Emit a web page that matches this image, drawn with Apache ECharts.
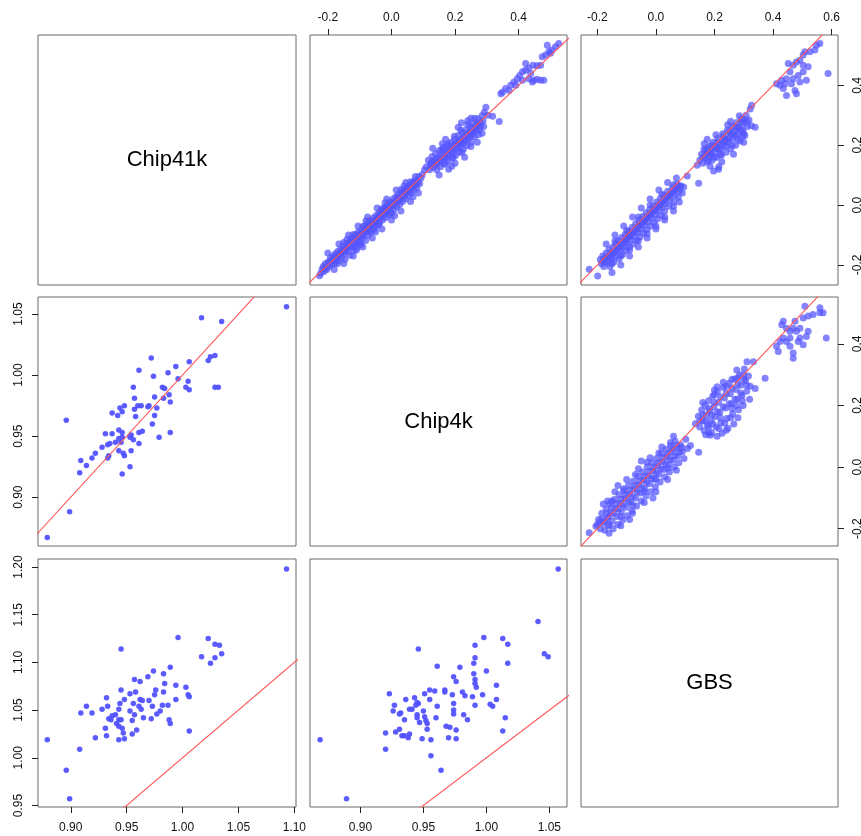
<!DOCTYPE html>
<html><head><meta charset="utf-8">
<script src="https://cdn.jsdelivr.net/npm/echarts@6/dist/echarts.min.js"></script>
<style>html,body{margin:0;padding:0;background:#fff}#c{width:861px;height:836px}</style>
</head><body><div id="c"></div>
<script>
// ---------------- DATA ----------------
const varNames = ['Chip41k', 'Chip4k', 'GBS'];

// axis ranges (lower panels)
const rangeChip41k = [0.8707, 1.1015];
const rangeChip4k = [0.860, 1.064];
const rangeGBS = [0.9484, 1.2084];
// axis ranges (upper panels)
const rangeUp1 = [-0.267, 0.568];
const rangeUp2 = [-0.256, 0.552];
const rangeUp3 = [-0.256, 0.622];

// tick labels
const ticksChip41k = [0.90, 0.95, 1.00, 1.05, 1.10];
const ticksChip4kX = [0.90, 0.95, 1.00, 1.05];
const ticksChip4kY = [0.90, 0.95, 1.00, 1.05];
const ticksGBS = [0.95, 1.00, 1.05, 1.10, 1.15, 1.20];
const ticksUp2Top = [-0.2, 0.0, 0.2, 0.4];
const ticksUp3Top = [-0.2, 0.0, 0.2, 0.4, 0.6];
const ticksUp1Right = [-0.2, 0.0, 0.2, 0.4];
const ticksUp2Right = [-0.2, 0.0, 0.2, 0.4];

// lower panel points
const pts41k_4k = [[1.093,1.056],[1.017,1.047],[1.035,1.044],[0.972,1.014],[0.961,1.004],[0.994,1.007],[1.006,1.011],[1.023,1.012],[1.025,1.015],[1.029,1.016],[0.987,1.002],[0.974,0.999],[0.996,0.997],[1.005,0.995],[1.003,0.990],[1.006,0.988],[1.029,0.990],[1.032,0.990],[0.956,0.990],[0.982,0.990],[0.984,0.989],[0.988,0.984],[0.983,0.981],[0.989,0.978],[0.975,0.982],[0.957,0.981],[0.977,0.973],[0.969,0.974],[0.970,0.975],[0.963,0.975],[0.960,0.975],[0.957,0.972],[0.948,0.975],[0.944,0.973],[0.946,0.970],[0.942,0.967],[0.937,0.969],[0.958,0.966],[0.975,0.967],[0.973,0.960],[0.896,0.963],[0.989,0.953],[0.979,0.949],[0.961,0.953],[0.964,0.954],[0.954,0.951],[0.953,0.949],[0.943,0.955],[0.946,0.953],[0.937,0.952],[0.931,0.952],[0.943,0.948],[0.946,0.949],[0.940,0.945],[0.945,0.945],[0.935,0.944],[0.933,0.943],[0.928,0.941],[0.956,0.947],[0.961,0.944],[0.922,0.936],[0.919,0.932],[0.909,0.930],[0.914,0.926],[0.908,0.920],[0.933,0.932],[0.934,0.934],[0.943,0.938],[0.948,0.934],[0.947,0.936],[0.954,0.938],[0.953,0.925],[0.946,0.919],[0.899,0.888],[0.879,0.867]];
const pts41k_gbs = [[1.093,1.198],[0.996,1.126],[1.023,1.125],[1.029,1.119],[1.033,1.118],[1.035,1.109],[1.029,1.105],[1.025,1.099],[1.017,1.106],[0.945,1.114],[0.989,1.095],[0.974,1.091],[0.983,1.088],[0.969,1.085],[0.957,1.082],[0.962,1.080],[0.984,1.078],[0.994,1.076],[1.003,1.074],[0.945,1.071],[0.958,1.069],[0.953,1.067],[0.976,1.071],[0.983,1.069],[0.975,1.066],[1.005,1.066],[1.006,1.064],[0.932,1.063],[0.948,1.061],[0.962,1.061],[0.964,1.060],[0.970,1.060],[0.994,1.061],[0.944,1.057],[0.956,1.057],[0.961,1.054],[0.973,1.054],[0.982,1.055],[0.987,1.055],[0.914,1.054],[0.933,1.054],[0.928,1.051],[0.919,1.047],[0.909,1.047],[0.943,1.051],[0.953,1.049],[0.963,1.051],[0.980,1.049],[0.977,1.046],[0.940,1.045],[0.937,1.044],[0.934,1.041],[0.936,1.040],[0.943,1.040],[0.945,1.040],[0.955,1.039],[0.957,1.045],[0.965,1.042],[0.972,1.041],[0.988,1.040],[0.989,1.036],[0.941,1.036],[0.943,1.033],[0.931,1.031],[0.946,1.031],[0.959,1.029],[1.006,1.028],[0.947,1.026],[0.932,1.023],[0.922,1.021],[0.943,1.019],[0.948,1.020],[0.955,1.025],[0.879,1.019],[0.908,1.009],[0.896,0.987],[0.899,0.957]];
const pts4k_gbs = [[1.057,1.198],[1.041,1.143],[0.998,1.126],[1.013,1.125],[1.017,1.119],[0.991,1.118],[0.946,1.114],[1.046,1.109],[1.049,1.106],[0.991,1.105],[1.017,1.099],[0.990,1.099],[0.961,1.096],[0.979,1.095],[1.000,1.091],[0.990,1.088],[0.974,1.085],[0.976,1.080],[0.991,1.082],[0.991,1.078],[0.992,1.074],[1.008,1.076],[0.955,1.071],[0.959,1.070],[0.967,1.071],[0.967,1.069],[0.981,1.069],[0.923,1.067],[0.951,1.067],[0.943,1.063],[0.936,1.061],[0.955,1.061],[0.973,1.066],[0.983,1.065],[0.997,1.066],[0.989,1.064],[1.008,1.061],[0.945,1.058],[0.946,1.057],[0.927,1.055],[0.944,1.055],[0.961,1.054],[0.974,1.057],[0.991,1.055],[1.003,1.056],[1.005,1.054],[0.939,1.051],[0.941,1.051],[0.926,1.049],[0.932,1.047],[0.950,1.049],[0.974,1.050],[0.974,1.046],[0.945,1.045],[0.931,1.046],[0.945,1.042],[0.951,1.043],[0.960,1.042],[0.982,1.045],[0.985,1.040],[1.015,1.042],[0.935,1.040],[0.947,1.037],[0.952,1.039],[0.953,1.036],[0.968,1.033],[0.971,1.032],[0.976,1.029],[0.953,1.030],[1.013,1.028],[0.920,1.026],[0.928,1.027],[0.931,1.030],[0.933,1.023],[0.938,1.021],[0.935,1.023],[0.939,1.025],[0.970,1.021],[0.976,1.020],[0.949,1.020],[0.956,1.019],[0.868,1.019],[0.920,1.009],[0.956,1.002],[0.964,0.987],[0.889,0.957]];

// upper panel points (row 1 / col 2)
const ptsUp12 = [[-0.226,-0.236],[-0.222,-0.228],[-0.214,-0.205],[-0.212,-0.222],[-0.208,-0.196],[-0.203,-0.215],[-0.199,-0.190],[-0.196,-0.205],[-0.192,-0.178],[-0.188,-0.199],[-0.184,-0.170],[-0.181,-0.186],[-0.178,-0.195],[-0.176,-0.163],[-0.172,-0.178],[-0.169,-0.155],[-0.166,-0.187],[-0.163,-0.166],[-0.160,-0.148],[-0.157,-0.175],[-0.154,-0.158],[-0.151,-0.137],[-0.148,-0.162],[-0.146,-0.181],[-0.143,-0.146],[-0.140,-0.128],[-0.137,-0.155],[-0.134,-0.138],[-0.131,-0.168],[-0.129,-0.117],[-0.127,-0.140],[-0.124,-0.108],[-0.121,-0.126],[-0.118,-0.152],[-0.115,-0.132],[-0.112,-0.098],[-0.110,-0.116],[-0.107,-0.140],[-0.104,-0.089],[-0.101,-0.122],[-0.098,-0.103],[-0.095,-0.132],[-0.093,-0.084],[-0.090,-0.110],[-0.087,-0.095],[-0.084,-0.070],[-0.081,-0.118],[-0.078,-0.088],[-0.076,-0.062],[-0.073,-0.101],[-0.070,-0.078],[-0.067,-0.052],[-0.064,-0.090],[-0.061,-0.066],[-0.058,-0.044],[-0.055,-0.082],[-0.052,-0.058],[-0.049,-0.036],[-0.046,-0.070],[-0.043,-0.048],[-0.040,-0.027],[-0.037,-0.060],[-0.034,-0.040],[-0.031,-0.018],[-0.028,-0.050],[-0.025,-0.030],[-0.022,-0.008],[-0.019,-0.042],[-0.016,-0.020],[-0.013,-0.001],[-0.010,-0.034],[-0.007,-0.012],[-0.004,0.010],[-0.001,-0.024],[0.002,-0.002],[0.005,0.020],[0.008,-0.016],[0.011,0.006],[0.014,0.028],[0.017,-0.006],[0.020,0.014],[0.023,0.036],[0.026,0.002],[0.029,0.022],[0.032,0.044],[0.035,0.012],[0.038,0.030],[0.041,0.052],[0.044,0.020],[0.047,0.040],[0.050,0.060],[0.053,0.030],[0.056,0.048],[0.059,0.068],[0.062,0.040],[0.065,0.058],[0.068,0.076],[0.071,0.050],[0.074,0.066],[0.077,0.084],[0.080,0.058],[0.083,0.078],[0.086,0.095],[0.089,0.072],[0.093,0.090],[0.097,0.102],[0.104,0.118],[0.126,0.134],
[0.110,0.128],[0.116,0.150],[0.120,0.118],[0.125,0.140],[0.128,0.162],[0.132,0.126],[0.136,0.150],[0.139,0.172],[0.142,0.118],[0.145,0.138],[0.148,0.160],[0.151,0.182],[0.154,0.128],[0.157,0.148],[0.160,0.170],[0.163,0.192],[0.166,0.136],[0.169,0.158],[0.172,0.180],[0.175,0.200],[0.178,0.146],[0.181,0.168],[0.184,0.190],[0.187,0.210],[0.190,0.156],[0.193,0.178],[0.196,0.200],[0.199,0.220],[0.202,0.166],[0.205,0.188],[0.208,0.210],[0.211,0.232],[0.214,0.176],[0.217,0.198],[0.220,0.220],[0.223,0.242],[0.226,0.186],[0.229,0.208],[0.232,0.230],[0.235,0.252],[0.238,0.198],[0.241,0.220],[0.244,0.242],[0.247,0.262],[0.250,0.210],[0.253,0.232],[0.256,0.254],[0.259,0.274],[0.262,0.228],[0.265,0.248],[0.268,0.270],[0.272,0.288],[0.276,0.252],[0.280,0.276],[0.285,0.298],[0.292,0.310],[0.297,0.327],[0.303,0.300],[0.318,0.297],[0.339,0.279],
[0.349,0.377],[0.359,0.389],[0.375,0.400],[0.385,0.411],[0.396,0.422],[0.403,0.433],[0.412,0.445],[0.422,0.450],[0.432,0.458],[0.445,0.467],[0.422,0.473],[0.438,0.439],[0.458,0.465],[0.469,0.467],[0.432,0.422],[0.448,0.417],[0.458,0.420],[0.469,0.417],[0.479,0.417],[0.443,0.411],[0.412,0.417],[0.391,0.400],[0.485,0.501],[0.495,0.512],[0.505,0.518],[0.516,0.529],[0.526,0.540],[0.490,0.534],[0.500,0.507],[0.474,0.495],[0.370,0.383],[0.344,0.372]];
const ptsUp12core = [[-0.218,-0.214],[-0.206,-0.210],[-0.197,-0.196],[-0.189,-0.185],[-0.181,-0.176],[-0.174,-0.184],[-0.167,-0.170],[-0.159,-0.162],[-0.152,-0.150],[-0.145,-0.152],[-0.139,-0.141],[-0.133,-0.126],[-0.126,-0.123],[-0.120,-0.139],[-0.114,-0.113],[-0.108,-0.105],[-0.102,-0.110],[-0.096,-0.094],[-0.089,-0.100],[-0.083,-0.082],[-0.077,-0.076],[-0.071,-0.090],[-0.065,-0.064],[-0.059,-0.056],[-0.053,-0.068],[-0.047,-0.050],[-0.041,-0.040],[-0.035,-0.030],[-0.029,-0.038],[-0.023,-0.020],[-0.017,-0.010],[-0.011,-0.022],[-0.005,-0.004],[0.001,0.008],[0.007,0.000],[0.013,0.012],[0.019,0.026],[0.025,0.018],[0.031,0.030],[0.037,0.042],[0.043,0.036],[0.049,0.048],[0.055,0.060],[0.061,0.052],[0.067,0.064],[0.073,0.075],[0.079,0.070],[-0.150,-0.125],[-0.120,-0.098],[-0.090,-0.072],[-0.060,-0.078],[-0.030,-0.012],[0.000,-0.030],[0.030,0.052],[0.060,0.078],[-0.170,-0.196],[-0.100,-0.128],[-0.040,-0.064],
[0.122,0.134],[0.130,0.146],[0.138,0.136],[0.146,0.156],[0.153,0.146],[0.161,0.160],[0.168,0.172],[0.174,0.162],[0.181,0.182],[0.188,0.176],[0.195,0.190],[0.201,0.202],[0.207,0.196],[0.213,0.212],[0.219,0.206],[0.225,0.222],[0.231,0.216],[0.237,0.236],[0.243,0.228],[0.249,0.246],[0.255,0.240],[0.261,0.258],[0.267,0.252],[0.273,0.268],[0.280,0.262],[0.288,0.282],[0.158,0.184],[0.178,0.204],[0.198,0.230],[0.218,0.250],[0.240,0.270],[0.262,0.290],[0.170,0.140],[0.195,0.160],[0.222,0.176],[0.250,0.196],[0.275,0.236],[0.290,0.262]];
const ptsUp12edge = [[-0.200,-0.160],[-0.180,-0.215],[-0.165,-0.130],[-0.150,-0.195],[-0.135,-0.100],[-0.120,-0.170],[-0.105,-0.070],[-0.090,-0.140],[-0.075,-0.040],[-0.060,-0.110],[-0.045,-0.010],[-0.030,-0.080],[-0.015,0.020],[0.000,-0.050],[0.015,0.050],[0.030,-0.020],[0.045,0.075],[0.060,0.012],[0.075,0.095],[0.085,0.040],[-0.140,-0.115],[-0.110,-0.150],[-0.080,-0.052],[-0.050,-0.090],[-0.020,0.008],[0.010,-0.036],[0.040,0.064],[0.068,0.028],
[0.130,0.190],[0.150,0.100],[0.170,0.220],[0.190,0.130],[0.210,0.260],[0.230,0.160],[0.250,0.290],[0.270,0.210],[0.160,0.205],[0.200,0.140],[0.240,0.282],[0.285,0.240],[0.180,0.120],[0.220,0.275]];

// upper panel points (row 1 / col 3)
const ptsUp13 = [[-0.228,-0.214],[-0.199,-0.237],[-0.190,-0.182],[-0.186,-0.196],[-0.182,-0.170],[-0.178,-0.205],[-0.174,-0.178],[-0.170,-0.160],[-0.167,-0.192],[-0.163,-0.170],[-0.160,-0.148],[-0.157,-0.205],[-0.153,-0.160],[-0.150,-0.180],[-0.147,-0.140],[-0.144,-0.190],[-0.141,-0.158],[-0.138,-0.128],[-0.135,-0.170],[-0.132,-0.145],[-0.129,-0.118],[-0.126,-0.180],[-0.123,-0.152],[-0.120,-0.130],[-0.117,-0.108],[-0.114,-0.165],[-0.111,-0.140],[-0.108,-0.118],[-0.105,-0.098],[-0.102,-0.152],[-0.099,-0.128],[-0.096,-0.106],[-0.093,-0.086],[-0.090,-0.140],[-0.087,-0.116],[-0.084,-0.094],[-0.081,-0.074],[-0.078,-0.130],[-0.075,-0.104],[-0.072,-0.082],[-0.069,-0.062],[-0.066,-0.118],[-0.063,-0.092],[-0.060,-0.070],[-0.057,-0.050],[-0.054,-0.106],[-0.051,-0.080],[-0.048,-0.058],[-0.045,-0.038],[-0.042,-0.094],[-0.039,-0.068],[-0.036,-0.046],[-0.033,-0.026],[-0.030,-0.082],[-0.027,-0.056],[-0.024,-0.034],[-0.021,-0.014],[-0.018,-0.070],[-0.015,-0.044],[-0.012,-0.022],[-0.009,-0.002],[-0.006,-0.058],[-0.003,-0.032],[0.000,-0.010],[0.003,0.010],[0.006,-0.046],[0.009,-0.020],[0.012,0.002],[0.015,0.022],[0.018,-0.034],[0.021,-0.008],[0.024,0.014],[0.027,0.034],[0.030,-0.020],[0.033,0.004],[0.036,0.026],[0.040,0.046],[0.044,-0.004],[0.048,0.018],[0.052,0.040],[0.056,0.058],[0.060,0.010],[0.064,0.032],[0.068,0.052],[0.072,0.070],[0.076,0.026],[0.080,0.046],[0.085,0.064],[0.090,0.040],[0.095,0.060],[0.107,0.097],[0.146,0.073],[0.141,0.133],
[0.150,0.150],[0.156,0.170],[0.160,0.140],[0.164,0.186],[0.168,0.158],[0.172,0.176],[0.176,0.144],[0.180,0.196],[0.184,0.166],[0.188,0.186],[0.192,0.150],[0.196,0.210],[0.200,0.176],[0.204,0.196],[0.208,0.160],[0.212,0.222],[0.216,0.186],[0.220,0.206],[0.224,0.166],[0.228,0.238],[0.232,0.198],[0.236,0.220],[0.240,0.176],[0.244,0.250],[0.248,0.210],[0.252,0.232],[0.256,0.188],[0.260,0.262],[0.264,0.222],[0.268,0.246],[0.272,0.200],[0.276,0.276],[0.280,0.236],[0.284,0.258],[0.288,0.214],[0.292,0.288],[0.296,0.250],[0.300,0.272],[0.304,0.232],[0.308,0.300],[0.312,0.262],[0.318,0.284],[0.322,0.321],[0.327,0.333],[0.326,0.265],[0.339,0.260],[0.197,0.114],[0.214,0.120],
[0.412,0.405],[0.429,0.417],[0.446,0.422],[0.458,0.445],[0.452,0.473],[0.469,0.467],[0.480,0.478],[0.492,0.484],[0.503,0.467],[0.520,0.462],[0.514,0.417],[0.492,0.411],[0.475,0.383],[0.446,0.366],[0.480,0.372],[0.463,0.405],[0.441,0.405],[0.424,0.400],[0.548,0.534],[0.543,0.518],[0.526,0.512],[0.509,0.512],[0.503,0.501],[0.560,0.540],[0.588,0.439],[0.486,0.433],[0.469,0.422],[0.503,0.445],[0.435,0.389]];
const ptsUp13core = [[-0.180,-0.188],[-0.172,-0.190],[-0.165,-0.178],[-0.158,-0.172],[-0.151,-0.168],[-0.144,-0.160],[-0.136,-0.150],[-0.129,-0.144],[-0.121,-0.140],[-0.114,-0.128],[-0.106,-0.122],[-0.099,-0.112],[-0.091,-0.106],[-0.084,-0.098],[-0.076,-0.090],[-0.069,-0.084],[-0.061,-0.076],[-0.054,-0.066],[-0.046,-0.060],[-0.039,-0.052],[-0.031,-0.044],[-0.024,-0.036],[-0.016,-0.030],[-0.009,-0.020],[-0.001,-0.016],[0.006,-0.004],[0.014,0.000],[0.021,0.010],[0.029,0.016],[0.036,0.024],[0.044,0.030],[0.051,0.038],[0.059,0.046],[0.066,0.052],[0.074,0.058],[0.082,0.064],[-0.150,-0.196],[-0.120,-0.170],[-0.090,-0.150],[-0.060,-0.120],[-0.030,-0.096],[0.000,-0.070],[0.030,-0.040],[0.060,-0.004],[-0.140,-0.120],[-0.100,-0.086],[-0.060,-0.040],[-0.020,0.000],[0.020,0.036],[0.060,0.068],
[0.160,0.160],[0.170,0.168],[0.180,0.174],[0.190,0.170],[0.200,0.190],[0.210,0.192],[0.220,0.186],[0.230,0.210],[0.240,0.214],[0.250,0.222],[0.260,0.240],[0.270,0.232],[0.280,0.256],[0.290,0.250],[0.300,0.286],[0.310,0.280],[0.180,0.150],[0.200,0.160],[0.220,0.170],[0.240,0.196],[0.260,0.200],[0.280,0.220],[0.300,0.240],[0.170,0.186],[0.190,0.200],[0.210,0.210],[0.230,0.230],[0.250,0.246],[0.270,0.262],[0.290,0.276]];
const ptsUp13edge = [[-0.170,-0.130],[-0.150,-0.225],[-0.140,-0.100],[-0.120,-0.200],[-0.110,-0.070],[-0.090,-0.170],[-0.080,-0.040],[-0.060,-0.140],[-0.050,-0.010],[-0.030,-0.110],[-0.020,0.020],[0.000,-0.080],[0.010,0.050],[0.030,-0.050],[0.040,0.075],[0.060,-0.020],[0.070,0.090],[0.080,0.010],
[0.165,0.205],[0.185,0.130],[0.205,0.235],[0.225,0.145],[0.245,0.268],[0.265,0.170],[0.285,0.298],[0.300,0.210],[0.175,0.220],[0.215,0.128],[0.255,0.280],[0.295,0.230]];

// upper panel points (row 2 / col 3)
const ptsUp23 = [[-0.228,-0.213],[-0.205,-0.192],[-0.196,-0.170],[-0.190,-0.200],[-0.185,-0.150],[-0.180,-0.182],[-0.175,-0.205],[-0.170,-0.135],[-0.166,-0.165],[-0.162,-0.190],[-0.158,-0.118],[-0.154,-0.148],[-0.150,-0.176],[-0.146,-0.200],[-0.142,-0.105],[-0.138,-0.134],[-0.134,-0.160],[-0.130,-0.186],[-0.126,-0.090],[-0.122,-0.118],[-0.118,-0.146],[-0.114,-0.172],[-0.110,-0.076],[-0.106,-0.102],[-0.102,-0.130],[-0.098,-0.158],[-0.094,-0.060],[-0.090,-0.088],[-0.086,-0.114],[-0.082,-0.142],[-0.078,-0.046],[-0.074,-0.072],[-0.070,-0.100],[-0.066,-0.126],[-0.062,-0.030],[-0.058,-0.058],[-0.054,-0.084],[-0.050,-0.110],[-0.046,-0.016],[-0.042,-0.042],[-0.038,-0.070],[-0.034,-0.094],[-0.030,0.000],[-0.026,-0.028],[-0.022,-0.054],[-0.018,-0.080],[-0.014,0.014],[-0.010,-0.012],[-0.006,-0.038],[-0.002,-0.064],[0.002,0.028],[0.006,0.004],[0.010,-0.022],[0.014,-0.048],[0.018,0.044],[0.022,0.018],[0.026,-0.008],[0.030,-0.032],[0.034,0.058],[0.038,0.034],[0.042,0.008],[0.046,-0.016],[0.050,0.070],[0.054,0.048],[0.058,0.022],[0.062,0.000],[0.066,0.084],[0.070,0.060],[0.074,0.036],[0.078,0.014],[0.084,0.072],[0.090,0.050],[0.096,0.028],[0.102,0.090],[0.108,0.060],[0.118,0.070],[0.146,0.048],[-0.165,-0.110],
[0.135,0.141],[0.145,0.165],[0.150,0.130],[0.156,0.185],[0.160,0.150],[0.165,0.118],[0.168,0.200],[0.172,0.168],[0.176,0.136],[0.180,0.215],[0.184,0.182],[0.188,0.150],[0.190,0.112],[0.194,0.230],[0.198,0.196],[0.202,0.164],[0.206,0.130],[0.209,0.261],[0.210,0.245],[0.214,0.210],[0.218,0.178],[0.222,0.144],[0.226,0.110],[0.230,0.258],[0.234,0.224],[0.238,0.192],[0.242,0.158],[0.246,0.126],[0.250,0.272],[0.254,0.238],[0.258,0.206],[0.262,0.172],[0.266,0.140],[0.270,0.286],[0.274,0.252],[0.278,0.220],[0.282,0.186],[0.286,0.300],[0.290,0.266],[0.294,0.232],[0.298,0.200],[0.302,0.318],[0.306,0.280],[0.310,0.246],[0.316,0.296],[0.322,0.262],[0.311,0.342],[0.333,0.342],[0.339,0.255],[0.373,0.288],[0.186,0.103],[0.209,0.100],[0.276,0.315],
[0.412,0.392],[0.424,0.408],[0.418,0.375],[0.430,0.462],[0.435,0.473],[0.446,0.451],[0.458,0.441],[0.469,0.451],[0.480,0.441],[0.492,0.451],[0.469,0.353],[0.469,0.370],[0.458,0.392],[0.446,0.408],[0.486,0.408],[0.503,0.397],[0.514,0.424],[0.520,0.441],[0.503,0.484],[0.520,0.490],[0.537,0.495],[0.560,0.501],[0.571,0.501],[0.509,0.522],[0.560,0.517],[0.582,0.419],[0.435,0.419],[0.458,0.419],[0.475,0.473],[0.492,0.419]];
const ptsUp23core = [[-0.200,-0.186],[-0.192,-0.178],[-0.184,-0.168],[-0.176,-0.176],[-0.168,-0.150],[-0.160,-0.160],[-0.152,-0.132],[-0.144,-0.150],[-0.136,-0.118],[-0.128,-0.136],[-0.120,-0.104],[-0.112,-0.124],[-0.104,-0.090],[-0.096,-0.110],[-0.088,-0.074],[-0.080,-0.096],[-0.072,-0.060],[-0.064,-0.080],[-0.056,-0.044],[-0.048,-0.066],[-0.040,-0.030],[-0.032,-0.050],[-0.024,-0.014],[-0.016,-0.036],[-0.008,0.000],[0.000,-0.020],[0.008,0.014],[0.016,-0.006],[0.024,0.030],[0.032,0.010],[0.040,0.044],[0.048,0.024],[0.056,0.058],[0.064,0.036],[0.072,0.070],[0.080,0.048],[0.088,0.064],[-0.160,-0.186],[-0.120,-0.160],[-0.080,-0.124],[-0.040,-0.080],[0.000,-0.040],[0.040,-0.004],[-0.150,-0.110],[-0.110,-0.070],[-0.070,-0.024],[-0.030,0.016],[0.010,0.046],[0.050,0.080],
[0.150,0.150],[0.160,0.170],[0.170,0.150],[0.180,0.190],[0.190,0.170],[0.200,0.210],[0.210,0.180],[0.220,0.228],[0.230,0.196],[0.240,0.240],[0.250,0.206],[0.260,0.256],[0.270,0.220],[0.280,0.270],[0.290,0.240],[0.300,0.285],[0.310,0.266],[0.195,0.140],[0.215,0.125],[0.235,0.142],[0.255,0.160],[0.275,0.200],[0.295,0.215],[0.180,0.130],[0.220,0.160],[0.260,0.190],[0.200,0.236],[0.240,0.262],[0.280,0.290]];
const ptsUp23edge = [[-0.180,-0.120],[-0.160,-0.215],[-0.140,-0.080],[-0.120,-0.190],[-0.100,-0.040],[-0.080,-0.150],[-0.060,-0.005],[-0.040,-0.115],[-0.020,0.030],[0.000,-0.080],[0.020,0.065],[0.040,-0.040],[0.060,0.100],[0.070,-0.010],[-0.130,-0.060],[-0.090,-0.170],[-0.050,0.020],[-0.010,-0.100],
[0.160,0.210],[0.180,0.110],[0.200,0.250],[0.240,0.120],[0.260,0.285],[0.280,0.160],[0.300,0.300],[0.320,0.220],[0.170,0.105],[0.230,0.275]];

// ---------------- LAYOUT ----------------
const colLeft = [38, 310, 581], colW = [258, 257, 257];
const rowTop = [35, 297, 559], rowH = [250, 249, 248];
const FONT = 'Liberation Sans, Arial, Helvetica, sans-serif';

const panels = [
  {r:0,c:0,diag:true},
  {r:0,c:1,xr:rangeUp2,yr:rangeUp1,pts:ptsUp12.concat(ptsUp12core, ptsUp12edge),up:true,xt:ticksUp2Top,xp:'top',xd:1},
  {r:0,c:2,xr:rangeUp3,yr:rangeUp1,pts:ptsUp13.concat(ptsUp13core, ptsUp13edge),up:true,xt:ticksUp3Top,xp:'top',xd:1,yt:ticksUp1Right,yp:'right',yd:1},
  {r:1,c:0,xr:rangeChip41k,yr:rangeChip4k,pts:pts41k_4k,yt:ticksChip4kY,yp:'left',yd:2},
  {r:1,c:1,diag:true},
  {r:1,c:2,xr:rangeUp3,yr:rangeUp2,pts:ptsUp23.concat(ptsUp23core, ptsUp23edge),up:true,yt:ticksUp2Right,yp:'right',yd:1},
  {r:2,c:0,xr:rangeChip41k,yr:rangeGBS,pts:pts41k_gbs,xt:ticksChip41k,xp:'bottom',xd:2,yt:ticksGBS,yp:'left',yd:2},
  {r:2,c:1,xr:rangeChip4k,yr:rangeGBS,pts:pts4k_gbs,xt:ticksChip4kX,xp:'bottom',xd:2},
  {r:2,c:2,diag:true}
];

const grids = [], xAxes = [], yAxes = [], series = [], graphics = [];

function mkAxis(dim, gi, range, ticks, pos, dec) {
  const a = {type:'value', gridIndex: gi, splitLine:{show:false}, axisLine:{show:false, onZero:false}};
  if (range) { a.min = range[0]; a.max = range[1]; } else { a.min = 0; a.max = 1; }
  if (ticks) {
    a.position = pos;
    a.axisTick = {show:true, length:6, inside:false, customValues: ticks, lineStyle:{color:'#222', width:1}};
    let margin = 11;
    if (pos === 'bottom') margin = 15;
    if (pos === 'left') margin = 13;
    if (pos === 'right') margin = 14;
    a.axisLabel = {show:true, customValues: ticks, formatter: v => Number(v).toFixed(dec),
      fontFamily: FONT, fontSize: 12, color:'#111', margin: margin};
    if (dim === 'y') a.axisLabel.rotate = 90;
  } else {
    a.axisTick = {show:false};
    a.axisLabel = {show:false};
  }
  return a;
}

panels.forEach((p, i) => {
  grids.push({left: colLeft[p.c], top: rowTop[p.r], width: colW[p.c], height: rowH[p.r],
    show: true, borderColor: '#6a6a6a', borderWidth: 1, backgroundColor: 'transparent',
    containLabel: false, outerBoundsMode: 'none'});
  xAxes.push(mkAxis('x', i, p.xr, p.xt, p.xp, p.xd));
  yAxes.push(mkAxis('y', i, p.yr, p.yt, p.yp, p.yd));
  if (p.diag) {
    graphics.push({type:'text', x: colLeft[p.c] + colW[p.c]/2, y: rowTop[p.r] + rowH[p.r]/2,
      style:{text: varNames[p.r], font: '22px ' + FONT, fill:'#000', align:'center', verticalAlign:'middle',
        textAlign:'center', textVerticalAlign:'middle'}});
    return;
  }
  series.push({type:'scatter', xAxisIndex:i, yAxisIndex:i, data:p.pts, symbol:'circle',
    symbolSize: p.up ? 7 : 5.5, silent:true, animation:false, large:false,
    itemStyle: p.up ? {color:'#5555ff', opacity:0.72} : {color:'#5252ff', opacity:0.95}});
  const lo = Math.min(p.xr[0], p.yr[0]) - 0.1, hi = Math.max(p.xr[1], p.yr[1]) + 0.1;
  series.push({type:'line', xAxisIndex:i, yAxisIndex:i, data:[[lo,lo],[hi,hi]], showSymbol:false,
    symbol:'none', clip:true, silent:true, animation:false, z:5,
    lineStyle:{color:'#ff5555', width:1.1}});
});

const chart = echarts.init(document.getElementById('c'), null, {renderer:'canvas'});
chart.setOption({animation:false, backgroundColor:'#fff', grid:grids, xAxis:xAxes, yAxis:yAxes, series:series, graphic:graphics});
</script></body></html>
